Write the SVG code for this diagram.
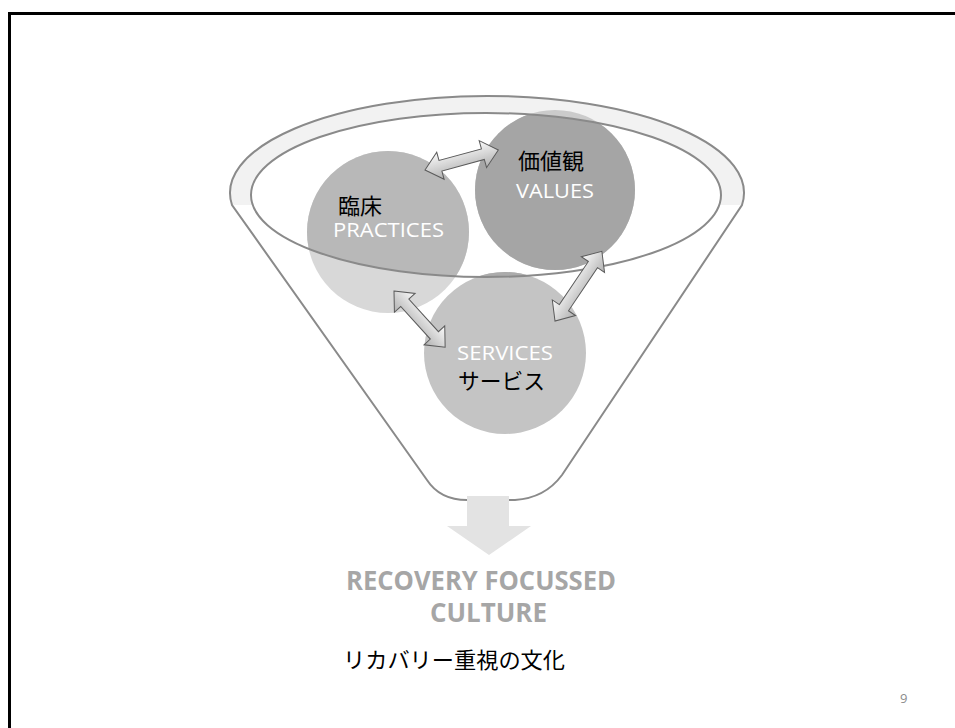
<svg xmlns="http://www.w3.org/2000/svg" width="955" height="728" viewBox="0 0 955 728">
<defs>
<style>
.line{fill:none;stroke:#8a8a8a;stroke-width:2}
.en{font-family:"Open Sans","Liberation Sans",sans-serif;fill:#ffffff;font-size:20px}
.jp{font-family:"Liberation Sans","Noto Sans CJK JP",sans-serif;fill:#000000;font-size:22px}
.big{font-family:"Open Sans","Liberation Sans",sans-serif;font-weight:bold;fill:#a6a6a6;font-size:26px}
.arr{fill:url(#ag);stroke:#5a5a5a;stroke-width:1}
</style>
<linearGradient id="ag" x1="0" y1="0" x2="0" y2="1">
<stop offset="0" stop-color="#fbfbfb"/>
<stop offset="1" stop-color="#b0b0b0"/>
</linearGradient>
<clipPath id="inner"><ellipse cx="486" cy="195" rx="235" ry="82"/></clipPath>
<clipPath id="top"><rect x="0" y="0" width="955" height="205"/></clipPath>
</defs>
<rect x="0" y="0" width="955" height="728" fill="#ffffff"/>
<rect x="9.5" y="13.5" width="960" height="730" fill="none" stroke="#000000" stroke-width="3"/>

<g id="funnel">
<path clip-path="url(#top)" fill="#f2f2f2" fill-rule="evenodd" d="M 230 192 A 257 97 0 1 1 744 192 A 257 97 0 1 1 230 192 Z M 251 195 A 235 82 0 1 0 721 195 A 235 82 0 1 0 251 195 Z"/>
<path class="line" d="M 232 205 A 257 97 0 1 1 742 205 L 562 475 Q 545 498 515 500 L 467 500 Q 440 500 427 480 Z"/>
</g>

<g id="practices">
<circle cx="388" cy="232" r="81" fill="#d8d8d8"/>
<circle cx="388" cy="232" r="81" fill="#b8b8b8" clip-path="url(#inner)"/>
</g>
<g id="values">
<circle cx="555" cy="190" r="80" fill="#cbcbcb"/>
<circle cx="555" cy="190" r="80" fill="#a5a5a5" clip-path="url(#inner)"/>
</g>
<g id="services">
<circle cx="505" cy="353" r="81" fill="#c4c4c4"/>
<circle cx="505" cy="353" r="81" fill="#ababab" clip-path="url(#inner)"/>
</g>
<g id="rim">
<ellipse class="line" cx="486" cy="195" rx="235" ry="82" stroke-width="1.8"/>
</g>

<g id="connectors">
<polygon class="arr" transform="translate(425,170) rotate(-15.3)" points="0,0 16,-14 16,-5.5 60,-5.5 60,-14 76,0 60,14 60,5.5 16,5.5 16,14"/>
<polygon class="arr" transform="translate(555,321) rotate(-56.1)" points="0,0 16,-14 16,-5.5 68,-5.5 68,-14 84,0 68,14 68,5.5 16,5.5 16,14"/>
<polygon class="arr" transform="translate(394,291) rotate(47.7)" points="0,0 16,-14 16,-5.5 60,-5.5 60,-14 76,0 60,14 60,5.5 16,5.5 16,14"/>
</g>

<g id="down-arrow">
<polygon fill="#e3e3e3" points="467,496 509,496 509,526 531,526 489,555 447,526 467,526"/>
</g>

<g id="labels">
<text class="jp" x="338" y="214">臨床</text>
<text class="en" x="333" y="237" textLength="111" lengthAdjust="spacingAndGlyphs">PRACTICES</text>
<text class="jp" x="518" y="169">価値観</text>
<text class="en" x="516" y="198" textLength="78" lengthAdjust="spacingAndGlyphs">VALUES</text>
<text class="en" x="457" y="360" textLength="96" lengthAdjust="spacingAndGlyphs">SERVICES</text>
<text class="jp" x="458" y="389" textLength="87" lengthAdjust="spacingAndGlyphs">サービス</text>
<text class="big" x="346" y="590" textLength="270" lengthAdjust="spacingAndGlyphs">RECOVERY FOCUSSED</text>
<text class="big" x="430" y="622" textLength="117" lengthAdjust="spacingAndGlyphs">CULTURE</text>
<text class="jp" x="343" y="668" textLength="222" lengthAdjust="spacingAndGlyphs">リカバリー重視の文化</text>
<text x="900" y="703" font-family="Open Sans, Liberation Sans, sans-serif" font-size="13" fill="#8c8c8c">9</text>
</g>
</svg>
